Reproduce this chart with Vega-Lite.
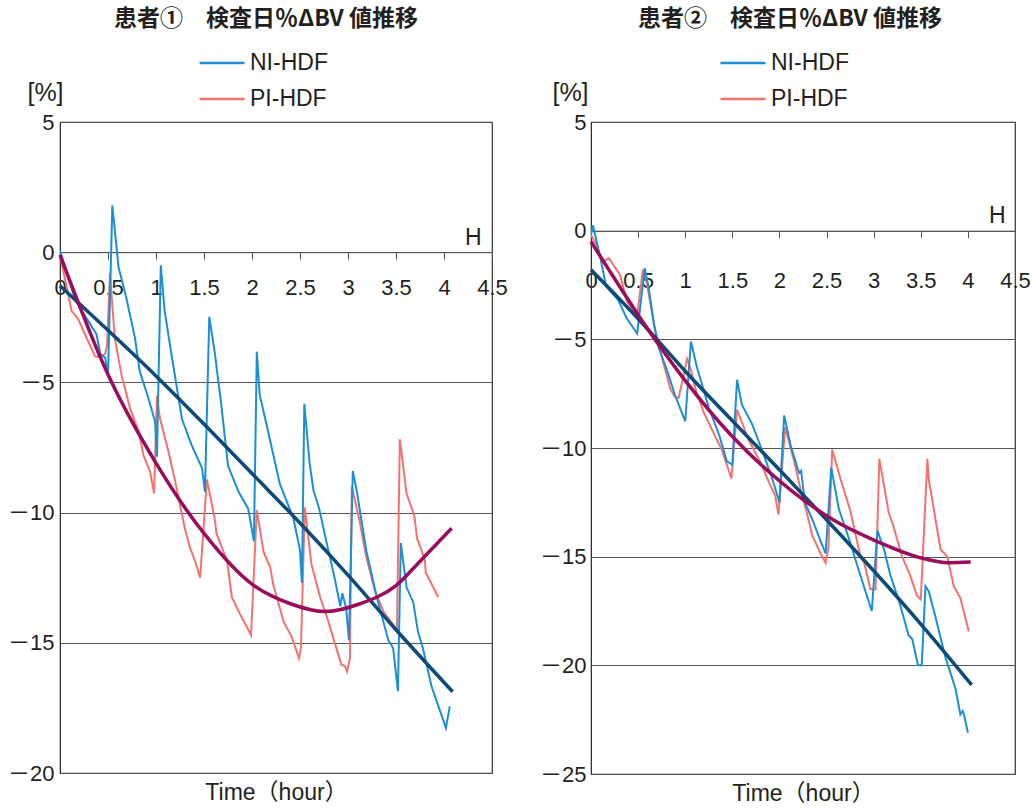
{
  "$schema": "https://vega.github.io/schema/vega-lite/v6.json",
  "background": "white",
  "padding": {"left": 6, "top": 7, "right": 0, "bottom": 6},
  "spacing": 30,
  "config": {
    "view": {"stroke": "#333", "strokeWidth": 1.2},
    "font": "Liberation Sans",
    "axis": {
      "labelFont": "Liberation Sans, Noto Sans CJK JP",
      "labelFontSize": 22,
      "labelColor": "#231f20",
      "titleColor": "#231f20",
      "titleFont": "Liberation Sans, Noto Sans CJK JP",
      "titleFontWeight": "normal",
      "titleFontSize": 23
    },
    "legend": {
      "labelFont": "Liberation Sans",
      "labelFontSize": 23,
      "labelColor": "#231f20"
    },
    "title": {
      "font": "Noto Sans CJK JP",
      "fontSize": 23,
      "fontWeight": "bold",
      "color": "#231f20",
      "anchor": "middle",
      "offset": 8
    }
  },
  "datasets": {
    "p1": [
      {"t": 0, "v": -0.1, "series": "PI-HDF"},
      {"t": 0.12, "v": -2.25, "series": "PI-HDF"},
      {"t": 0.19, "v": -2.57, "series": "PI-HDF"},
      {"t": 0.26, "v": -3.15, "series": "PI-HDF"},
      {"t": 0.365, "v": -4.0, "series": "PI-HDF"},
      {"t": 0.42, "v": -4.03, "series": "PI-HDF"},
      {"t": 0.47, "v": -3.9, "series": "PI-HDF"},
      {"t": 0.49, "v": -3.6, "series": "PI-HDF"},
      {"t": 0.52, "v": -0.8, "series": "PI-HDF"},
      {"t": 0.57, "v": -3.28, "series": "PI-HDF"},
      {"t": 0.64, "v": -4.7, "series": "PI-HDF"},
      {"t": 0.73, "v": -6.0, "series": "PI-HDF"},
      {"t": 0.82, "v": -6.9, "series": "PI-HDF"},
      {"t": 0.87, "v": -7.8, "series": "PI-HDF"},
      {"t": 0.94, "v": -8.45, "series": "PI-HDF"},
      {"t": 0.98, "v": -9.27, "series": "PI-HDF"},
      {"t": 1.01, "v": -5.5, "series": "PI-HDF"},
      {"t": 1.04, "v": -6.37, "series": "PI-HDF"},
      {"t": 1.13, "v": -7.66, "series": "PI-HDF"},
      {"t": 1.2, "v": -8.8, "series": "PI-HDF"},
      {"t": 1.25, "v": -9.7, "series": "PI-HDF"},
      {"t": 1.3, "v": -10.6, "series": "PI-HDF"},
      {"t": 1.35, "v": -11.3, "series": "PI-HDF"},
      {"t": 1.42, "v": -12.0, "series": "PI-HDF"},
      {"t": 1.46, "v": -12.5, "series": "PI-HDF"},
      {"t": 1.53, "v": -8.73, "series": "PI-HDF"},
      {"t": 1.61, "v": -10.2, "series": "PI-HDF"},
      {"t": 1.63, "v": -10.8, "series": "PI-HDF"},
      {"t": 1.74, "v": -11.85, "series": "PI-HDF"},
      {"t": 1.79, "v": -13.25, "series": "PI-HDF"},
      {"t": 1.875, "v": -13.9, "series": "PI-HDF"},
      {"t": 1.99, "v": -14.7, "series": "PI-HDF"},
      {"t": 2.05, "v": -9.9, "series": "PI-HDF"},
      {"t": 2.12, "v": -11.5, "series": "PI-HDF"},
      {"t": 2.19, "v": -12.1, "series": "PI-HDF"},
      {"t": 2.22, "v": -12.74, "series": "PI-HDF"},
      {"t": 2.33, "v": -14.2, "series": "PI-HDF"},
      {"t": 2.41, "v": -14.74, "series": "PI-HDF"},
      {"t": 2.49, "v": -15.6, "series": "PI-HDF"},
      {"t": 2.51, "v": -15.2, "series": "PI-HDF"},
      {"t": 2.55, "v": -9.8, "series": "PI-HDF"},
      {"t": 2.62, "v": -12.0, "series": "PI-HDF"},
      {"t": 2.71, "v": -13.25, "series": "PI-HDF"},
      {"t": 2.78, "v": -14.0, "series": "PI-HDF"},
      {"t": 2.93, "v": -15.83, "series": "PI-HDF"},
      {"t": 2.97, "v": -15.9, "series": "PI-HDF"},
      {"t": 2.99, "v": -16.1, "series": "PI-HDF"},
      {"t": 3.02, "v": -15.6, "series": "PI-HDF"},
      {"t": 3.04, "v": -9.0, "series": "PI-HDF"},
      {"t": 3.125, "v": -10.4, "series": "PI-HDF"},
      {"t": 3.19, "v": -11.7, "series": "PI-HDF"},
      {"t": 3.28, "v": -13.0, "series": "PI-HDF"},
      {"t": 3.37, "v": -13.8, "series": "PI-HDF"},
      {"t": 3.51, "v": -14.5, "series": "PI-HDF"},
      {"t": 3.54, "v": -7.18, "series": "PI-HDF"},
      {"t": 3.61, "v": -9.27, "series": "PI-HDF"},
      {"t": 3.69, "v": -10.1, "series": "PI-HDF"},
      {"t": 3.72, "v": -11.0, "series": "PI-HDF"},
      {"t": 3.8, "v": -11.8, "series": "PI-HDF"},
      {"t": 3.81, "v": -12.3, "series": "PI-HDF"},
      {"t": 3.94, "v": -13.25, "series": "PI-HDF"},
      {"t": 0, "v": 0.05, "series": "NI-HDF"},
      {"t": 0.16, "v": -1.85, "series": "NI-HDF"},
      {"t": 0.38, "v": -3.15, "series": "NI-HDF"},
      {"t": 0.42, "v": -3.9, "series": "NI-HDF"},
      {"t": 0.47, "v": -4.05, "series": "NI-HDF"},
      {"t": 0.5, "v": -4.75, "series": "NI-HDF"},
      {"t": 0.545, "v": 1.8, "series": "NI-HDF"},
      {"t": 0.61, "v": -0.58, "series": "NI-HDF"},
      {"t": 0.69, "v": -1.74, "series": "NI-HDF"},
      {"t": 0.78, "v": -3.28, "series": "NI-HDF"},
      {"t": 0.83, "v": -4.55, "series": "NI-HDF"},
      {"t": 0.92, "v": -5.6, "series": "NI-HDF"},
      {"t": 0.99, "v": -6.5, "series": "NI-HDF"},
      {"t": 1.01, "v": -7.85, "series": "NI-HDF"},
      {"t": 1.05, "v": -0.5, "series": "NI-HDF"},
      {"t": 1.09, "v": -2.25, "series": "NI-HDF"},
      {"t": 1.16, "v": -3.9, "series": "NI-HDF"},
      {"t": 1.27, "v": -6.4, "series": "NI-HDF"},
      {"t": 1.37, "v": -7.4, "series": "NI-HDF"},
      {"t": 1.48, "v": -8.3, "series": "NI-HDF"},
      {"t": 1.51, "v": -9.2, "series": "NI-HDF"},
      {"t": 1.555, "v": -2.48, "series": "NI-HDF"},
      {"t": 1.61, "v": -3.8, "series": "NI-HDF"},
      {"t": 1.68, "v": -5.85, "series": "NI-HDF"},
      {"t": 1.75, "v": -8.2, "series": "NI-HDF"},
      {"t": 1.86, "v": -9.2, "series": "NI-HDF"},
      {"t": 1.96, "v": -9.85, "series": "NI-HDF"},
      {"t": 2.02, "v": -11.1, "series": "NI-HDF"},
      {"t": 2.05, "v": -3.82, "series": "NI-HDF"},
      {"t": 2.08, "v": -5.47, "series": "NI-HDF"},
      {"t": 2.15, "v": -6.6, "series": "NI-HDF"},
      {"t": 2.29, "v": -8.9, "series": "NI-HDF"},
      {"t": 2.43, "v": -10.2, "series": "NI-HDF"},
      {"t": 2.5, "v": -11.45, "series": "NI-HDF"},
      {"t": 2.52, "v": -12.7, "series": "NI-HDF"},
      {"t": 2.545, "v": -5.82, "series": "NI-HDF"},
      {"t": 2.6, "v": -8.1, "series": "NI-HDF"},
      {"t": 2.64, "v": -9.14, "series": "NI-HDF"},
      {"t": 2.7, "v": -9.85, "series": "NI-HDF"},
      {"t": 2.78, "v": -11.2, "series": "NI-HDF"},
      {"t": 2.86, "v": -12.5, "series": "NI-HDF"},
      {"t": 2.92, "v": -13.6, "series": "NI-HDF"},
      {"t": 2.94, "v": -13.1, "series": "NI-HDF"},
      {"t": 2.98, "v": -13.65, "series": "NI-HDF"},
      {"t": 3.01, "v": -14.9, "series": "NI-HDF"},
      {"t": 3.05, "v": -8.4, "series": "NI-HDF"},
      {"t": 3.09, "v": -9.14, "series": "NI-HDF"},
      {"t": 3.19, "v": -11.45, "series": "NI-HDF"},
      {"t": 3.3, "v": -13.25, "series": "NI-HDF"},
      {"t": 3.42, "v": -14.9, "series": "NI-HDF"},
      {"t": 3.47, "v": -15.2, "series": "NI-HDF"},
      {"t": 3.52, "v": -16.86, "series": "NI-HDF"},
      {"t": 3.55, "v": -11.17, "series": "NI-HDF"},
      {"t": 3.61, "v": -12.87, "series": "NI-HDF"},
      {"t": 3.68, "v": -13.45, "series": "NI-HDF"},
      {"t": 3.73, "v": -14.6, "series": "NI-HDF"},
      {"t": 3.78, "v": -15.2, "series": "NI-HDF"},
      {"t": 3.87, "v": -16.67, "series": "NI-HDF"},
      {"t": 4.02, "v": -18.27, "series": "NI-HDF"},
      {"t": 4.06, "v": -17.44, "series": "NI-HDF"}
    ],
    "p1fit": [
      {"t": 0, "v": -1.29, "fit": "NI-HDF fit"},
      {"t": 0.5, "v": -3.0, "fit": "NI-HDF fit"},
      {"t": 1.0, "v": -4.75, "fit": "NI-HDF fit"},
      {"t": 1.5, "v": -6.6, "fit": "NI-HDF fit"},
      {"t": 2.0, "v": -8.5, "fit": "NI-HDF fit"},
      {"t": 2.5, "v": -10.4, "fit": "NI-HDF fit"},
      {"t": 3.0, "v": -12.4, "fit": "NI-HDF fit"},
      {"t": 3.5, "v": -14.5, "fit": "NI-HDF fit"},
      {"t": 4.09, "v": -16.88, "fit": "NI-HDF fit"},
      {"t": 0, "v": -0.1, "fit": "PI-HDF fit"},
      {"t": 0.5, "v": -4.7, "fit": "PI-HDF fit"},
      {"t": 1.0, "v": -8.1, "fit": "PI-HDF fit"},
      {"t": 1.5, "v": -10.8, "fit": "PI-HDF fit"},
      {"t": 2.0, "v": -12.75, "fit": "PI-HDF fit"},
      {"t": 2.4, "v": -13.5, "fit": "PI-HDF fit"},
      {"t": 2.76, "v": -13.8, "fit": "PI-HDF fit"},
      {"t": 3.125, "v": -13.5, "fit": "PI-HDF fit"},
      {"t": 3.5, "v": -12.8, "fit": "PI-HDF fit"},
      {"t": 3.78, "v": -11.75, "fit": "PI-HDF fit"},
      {"t": 4.08, "v": -10.6, "fit": "PI-HDF fit"}
    ],
    "p2": [
      {"t": 0, "v": -0.2, "series": "PI-HDF"},
      {"t": 0.06, "v": -0.67, "series": "PI-HDF"},
      {"t": 0.12, "v": -1.43, "series": "PI-HDF"},
      {"t": 0.19, "v": -1.27, "series": "PI-HDF"},
      {"t": 0.31, "v": -2.05, "series": "PI-HDF"},
      {"t": 0.38, "v": -3.25, "series": "PI-HDF"},
      {"t": 0.49, "v": -3.9, "series": "PI-HDF"},
      {"t": 0.55, "v": -1.8, "series": "PI-HDF"},
      {"t": 0.59, "v": -2.35, "series": "PI-HDF"},
      {"t": 0.67, "v": -4.35, "series": "PI-HDF"},
      {"t": 0.755, "v": -5.87, "series": "PI-HDF"},
      {"t": 0.84, "v": -7.25, "series": "PI-HDF"},
      {"t": 0.885, "v": -7.63, "series": "PI-HDF"},
      {"t": 0.93, "v": -7.7, "series": "PI-HDF"},
      {"t": 1.02, "v": -5.9, "series": "PI-HDF"},
      {"t": 1.06, "v": -6.4, "series": "PI-HDF"},
      {"t": 1.11, "v": -7.3, "series": "PI-HDF"},
      {"t": 1.2, "v": -8.4, "series": "PI-HDF"},
      {"t": 1.3, "v": -9.3, "series": "PI-HDF"},
      {"t": 1.39, "v": -10.1, "series": "PI-HDF"},
      {"t": 1.49, "v": -11.4, "series": "PI-HDF"},
      {"t": 1.55, "v": -8.24, "series": "PI-HDF"},
      {"t": 1.67, "v": -9.6, "series": "PI-HDF"},
      {"t": 1.815, "v": -10.8, "series": "PI-HDF"},
      {"t": 1.87, "v": -11.4, "series": "PI-HDF"},
      {"t": 1.955, "v": -12.2, "series": "PI-HDF"},
      {"t": 1.99, "v": -13.06, "series": "PI-HDF"},
      {"t": 2.06, "v": -9.05, "series": "PI-HDF"},
      {"t": 2.15, "v": -10.5, "series": "PI-HDF"},
      {"t": 2.24, "v": -12.2, "series": "PI-HDF"},
      {"t": 2.29, "v": -12.97, "series": "PI-HDF"},
      {"t": 2.35, "v": -14.05, "series": "PI-HDF"},
      {"t": 2.45, "v": -14.97, "series": "PI-HDF"},
      {"t": 2.49, "v": -15.28, "series": "PI-HDF"},
      {"t": 2.52, "v": -14.6, "series": "PI-HDF"},
      {"t": 2.56, "v": -10.07, "series": "PI-HDF"},
      {"t": 2.65, "v": -11.45, "series": "PI-HDF"},
      {"t": 2.75, "v": -12.85, "series": "PI-HDF"},
      {"t": 2.86, "v": -15.0, "series": "PI-HDF"},
      {"t": 2.9, "v": -15.28, "series": "PI-HDF"},
      {"t": 2.965, "v": -16.5, "series": "PI-HDF"},
      {"t": 3.02, "v": -16.5, "series": "PI-HDF"},
      {"t": 3.06, "v": -10.5, "series": "PI-HDF"},
      {"t": 3.16, "v": -12.98, "series": "PI-HDF"},
      {"t": 3.21, "v": -13.6, "series": "PI-HDF"},
      {"t": 3.3, "v": -14.98, "series": "PI-HDF"},
      {"t": 3.39, "v": -15.9, "series": "PI-HDF"},
      {"t": 3.46, "v": -16.8, "series": "PI-HDF"},
      {"t": 3.5, "v": -16.97, "series": "PI-HDF"},
      {"t": 3.57, "v": -10.5, "series": "PI-HDF"},
      {"t": 3.585, "v": -11.45, "series": "PI-HDF"},
      {"t": 3.71, "v": -14.67, "series": "PI-HDF"},
      {"t": 3.78, "v": -14.98, "series": "PI-HDF"},
      {"t": 3.85, "v": -16.36, "series": "PI-HDF"},
      {"t": 3.92, "v": -16.9, "series": "PI-HDF"},
      {"t": 4.01, "v": -18.44, "series": "PI-HDF"},
      {"t": 0, "v": -0.2, "series": "NI-HDF"},
      {"t": 0.02, "v": 0.25, "series": "NI-HDF"},
      {"t": 0.1, "v": -1.26, "series": "NI-HDF"},
      {"t": 0.16, "v": -2.56, "series": "NI-HDF"},
      {"t": 0.29, "v": -3.2, "series": "NI-HDF"},
      {"t": 0.38, "v": -4.04, "series": "NI-HDF"},
      {"t": 0.49, "v": -4.73, "series": "NI-HDF"},
      {"t": 0.57, "v": -1.73, "series": "NI-HDF"},
      {"t": 0.61, "v": -2.56, "series": "NI-HDF"},
      {"t": 0.67, "v": -4.33, "series": "NI-HDF"},
      {"t": 0.72, "v": -5.4, "series": "NI-HDF"},
      {"t": 0.81, "v": -6.47, "series": "NI-HDF"},
      {"t": 0.89, "v": -7.55, "series": "NI-HDF"},
      {"t": 1.0, "v": -8.77, "series": "NI-HDF"},
      {"t": 1.06, "v": -5.1, "series": "NI-HDF"},
      {"t": 1.125, "v": -6.3, "series": "NI-HDF"},
      {"t": 1.18, "v": -7.1, "series": "NI-HDF"},
      {"t": 1.25, "v": -8.15, "series": "NI-HDF"},
      {"t": 1.36, "v": -9.4, "series": "NI-HDF"},
      {"t": 1.44, "v": -10.6, "series": "NI-HDF"},
      {"t": 1.5, "v": -10.77, "series": "NI-HDF"},
      {"t": 1.55, "v": -6.86, "series": "NI-HDF"},
      {"t": 1.6, "v": -8.0, "series": "NI-HDF"},
      {"t": 1.71, "v": -8.9, "series": "NI-HDF"},
      {"t": 1.82, "v": -10.15, "series": "NI-HDF"},
      {"t": 1.92, "v": -11.37, "series": "NI-HDF"},
      {"t": 2.0, "v": -12.5, "series": "NI-HDF"},
      {"t": 2.05, "v": -8.5, "series": "NI-HDF"},
      {"t": 2.12, "v": -9.9, "series": "NI-HDF"},
      {"t": 2.19, "v": -10.9, "series": "NI-HDF"},
      {"t": 2.21, "v": -11.15, "series": "NI-HDF"},
      {"t": 2.23, "v": -11.05, "series": "NI-HDF"},
      {"t": 2.27, "v": -12.5, "series": "NI-HDF"},
      {"t": 2.35, "v": -13.3, "series": "NI-HDF"},
      {"t": 2.43, "v": -14.2, "series": "NI-HDF"},
      {"t": 2.49, "v": -14.85, "series": "NI-HDF"},
      {"t": 2.55, "v": -10.9, "series": "NI-HDF"},
      {"t": 2.63, "v": -12.8, "series": "NI-HDF"},
      {"t": 2.74, "v": -14.2, "series": "NI-HDF"},
      {"t": 2.84, "v": -15.6, "series": "NI-HDF"},
      {"t": 2.98, "v": -17.5, "series": "NI-HDF"},
      {"t": 3.04, "v": -13.8, "series": "NI-HDF"},
      {"t": 3.11, "v": -14.67, "series": "NI-HDF"},
      {"t": 3.18, "v": -15.9, "series": "NI-HDF"},
      {"t": 3.27, "v": -17.05, "series": "NI-HDF"},
      {"t": 3.37, "v": -18.6, "series": "NI-HDF"},
      {"t": 3.41, "v": -18.8, "series": "NI-HDF"},
      {"t": 3.47, "v": -20.0, "series": "NI-HDF"},
      {"t": 3.51, "v": -20.0, "series": "NI-HDF"},
      {"t": 3.55, "v": -16.36, "series": "NI-HDF"},
      {"t": 3.585, "v": -16.6, "series": "NI-HDF"},
      {"t": 3.655, "v": -17.75, "series": "NI-HDF"},
      {"t": 3.76, "v": -19.6, "series": "NI-HDF"},
      {"t": 3.87, "v": -21.1, "series": "NI-HDF"},
      {"t": 3.92, "v": -22.26, "series": "NI-HDF"},
      {"t": 3.945, "v": -22.1, "series": "NI-HDF"},
      {"t": 3.96, "v": -22.3, "series": "NI-HDF"},
      {"t": 4.0, "v": -23.1, "series": "NI-HDF"}
    ],
    "p2fit": [
      {"t": 0, "v": -1.8, "fit": "NI-HDF fit"},
      {"t": 0.5, "v": -4.05, "fit": "NI-HDF fit"},
      {"t": 1.05, "v": -6.7, "fit": "NI-HDF fit"},
      {"t": 1.5, "v": -8.75, "fit": "NI-HDF fit"},
      {"t": 2.0, "v": -11.0, "fit": "NI-HDF fit"},
      {"t": 2.5, "v": -13.3, "fit": "NI-HDF fit"},
      {"t": 3.0, "v": -15.65, "fit": "NI-HDF fit"},
      {"t": 3.5, "v": -18.1, "fit": "NI-HDF fit"},
      {"t": 4.04, "v": -20.9, "fit": "NI-HDF fit"},
      {"t": 0, "v": -0.5, "fit": "PI-HDF fit"},
      {"t": 0.67, "v": -4.95, "fit": "PI-HDF fit"},
      {"t": 1.0, "v": -6.9, "fit": "PI-HDF fit"},
      {"t": 1.48, "v": -9.38, "fit": "PI-HDF fit"},
      {"t": 2.13, "v": -11.97, "fit": "PI-HDF fit"},
      {"t": 2.56, "v": -13.28, "fit": "PI-HDF fit"},
      {"t": 3.02, "v": -14.27, "fit": "PI-HDF fit"},
      {"t": 3.48, "v": -15.03, "fit": "PI-HDF fit"},
      {"t": 3.8, "v": -15.28, "fit": "PI-HDF fit"},
      {"t": 4.03, "v": -15.25, "fit": "PI-HDF fit"}
    ]
  },
  "resolve": {"legend": {"color": "independent"}, "scale": {"color": "independent", "stroke": "independent"}},
  "hconcat": [
    {
      "width": 432,
      "height": 651,
      "title": {"text": "患者①　検査日％ΔBV 値推移", "dx": -10},
      "resolve": {"axis": {"x": "independent"}},
      "layer": [
        {
          "data": {"name": "p1"},
          "mark": {"type": "line", "strokeWidth": 2, "clip": true},
          "encoding": {
            "x": {
              "field": "t", "type": "quantitative",
              "scale": {"domain": [0, 4.5], "nice": false, "zero": false},
              "axis": {
                "orient": "bottom", "offset": -520.8, "format": "~g",
                "values": [0, 0.5, 1, 1.5, 2, 2.5, 3, 3.5, 4, 4.5],
                "grid": false, "domain": true, "domainColor": "#555", "domainWidth": 1,
                "ticks": true, "tickSize": 7, "tickColor": "#555", "tickWidth": 1,
                "labelPadding": 18, "labelFlush": false, "labelOverlap": false, "labelBound": false,
                "title": "H", "titleX": 421, "titleY": -8, "titleAlign": "right", "titleBaseline": "alphabetic",
                "titleAngle": 0, "titleFontSize": 23
              }
            },
            "y": {
              "field": "v", "type": "quantitative",
              "scale": {"domain": [-20, 5], "nice": false, "zero": false},
              "axis": {
                "values": [-20, -15, -10, -5, 0, 5],
                "grid": true, "gridColor": "#555", "gridWidth": 1,
                "ticks": false, "domain": true, "domainColor": "#333",
                "labelPadding": 6, "labelFlush": false, "labelOverlap": false, "labelBound": false,
                "labelExpr": "datum.value < 0 ? '－' + (-datum.value) : datum.label",
                "title": "[%]", "titleAngle": 0, "titleX": -15, "titleY": -30,
                "titleAlign": "center", "titleBaseline": "middle", "titleFontSize": 25
              }
            },
            "color": {
              "field": "series", "type": "nominal",
              "scale": {"domain": ["NI-HDF", "PI-HDF"], "range": ["#1b8fd6", "#f2726c"]},
              "legend": {
                "orient": "none", "legendX": 138, "legendY": -83, "title": null,
                "symbolType": "stroke", "symbolSize": 2025, "symbolStrokeWidth": 2.5,
                "rowPadding": -4, "labelOffset": 4
              }
            }
          }
        },
        {
          "data": {"name": "p1fit"},
          "mark": {"type": "line", "strokeWidth": 3.5, "interpolate": "monotone"},
          "encoding": {
            "x": {
              "field": "t", "type": "quantitative",
              "axis": {"orient": "bottom", "title": "Time（hour）", "labels": false, "ticks": false, "domain": false, "grid": false, "titlePadding": 8}
            },
            "y": {"field": "v", "type": "quantitative"},
            "stroke": {
              "field": "fit", "type": "nominal",
              "scale": {"domain": ["NI-HDF fit", "PI-HDF fit"], "range": ["#0c4a78", "#9c0b5b"]},
              "legend": null
            }
          }
        }
      ]
    },
    {
      "width": 424,
      "height": 652,
      "title": {"text": "患者②　検査日％ΔBV 値推移", "dx": -13},
      "resolve": {"axis": {"x": "independent"}},
      "layer": [
        {
          "data": {"name": "p2"},
          "mark": {"type": "line", "strokeWidth": 2, "clip": true},
          "encoding": {
            "x": {
              "field": "t", "type": "quantitative",
              "scale": {"domain": [0, 4.5], "nice": false, "zero": false},
              "axis": {
                "orient": "bottom", "offset": -543.3, "format": "~g",
                "values": [0, 0.5, 1, 1.5, 2, 2.5, 3, 3.5, 4, 4.5],
                "grid": false, "domain": true, "domainColor": "#555", "domainWidth": 1,
                "ticks": true, "tickSize": 7, "tickColor": "#555", "tickWidth": 1,
                "labelPadding": 33, "labelFlush": false, "labelOverlap": false, "labelBound": false,
                "title": "H", "titleX": 414, "titleY": -8, "titleAlign": "right", "titleBaseline": "alphabetic",
                "titleAngle": 0, "titleFontSize": 23
              }
            },
            "y": {
              "field": "v", "type": "quantitative",
              "scale": {"domain": [-25, 5], "nice": false, "zero": false},
              "axis": {
                "values": [-25, -20, -15, -10, -5, 0, 5],
                "grid": true, "gridColor": "#555", "gridWidth": 1,
                "ticks": false, "domain": true, "domainColor": "#333",
                "labelPadding": 5, "labelFlush": false, "labelOverlap": false, "labelBound": false,
                "labelExpr": "datum.value < 0 ? '－' + (-datum.value) : datum.label",
                "title": "[%]", "titleAngle": 0, "titleX": -21, "titleY": -30,
                "titleAlign": "center", "titleBaseline": "middle", "titleFontSize": 25
              }
            },
            "color": {
              "field": "series", "type": "nominal",
              "scale": {"domain": ["NI-HDF", "PI-HDF"], "range": ["#1b8fd6", "#f2726c"]},
              "legend": {
                "orient": "none", "legendX": 128, "legendY": -83, "title": null,
                "symbolType": "stroke", "symbolSize": 2025, "symbolStrokeWidth": 2.5,
                "rowPadding": -4, "labelOffset": 4
              }
            }
          }
        },
        {
          "data": {"name": "p2fit"},
          "mark": {"type": "line", "strokeWidth": 3.5, "interpolate": "monotone"},
          "encoding": {
            "x": {
              "field": "t", "type": "quantitative",
              "axis": {"orient": "bottom", "title": "Time（hour）", "labels": false, "ticks": false, "domain": false, "grid": false, "titlePadding": 8}
            },
            "y": {"field": "v", "type": "quantitative"},
            "stroke": {
              "field": "fit", "type": "nominal",
              "scale": {"domain": ["NI-HDF fit", "PI-HDF fit"], "range": ["#0c4a78", "#9c0b5b"]},
              "legend": null
            }
          }
        }
      ]
    }
  ]
}
